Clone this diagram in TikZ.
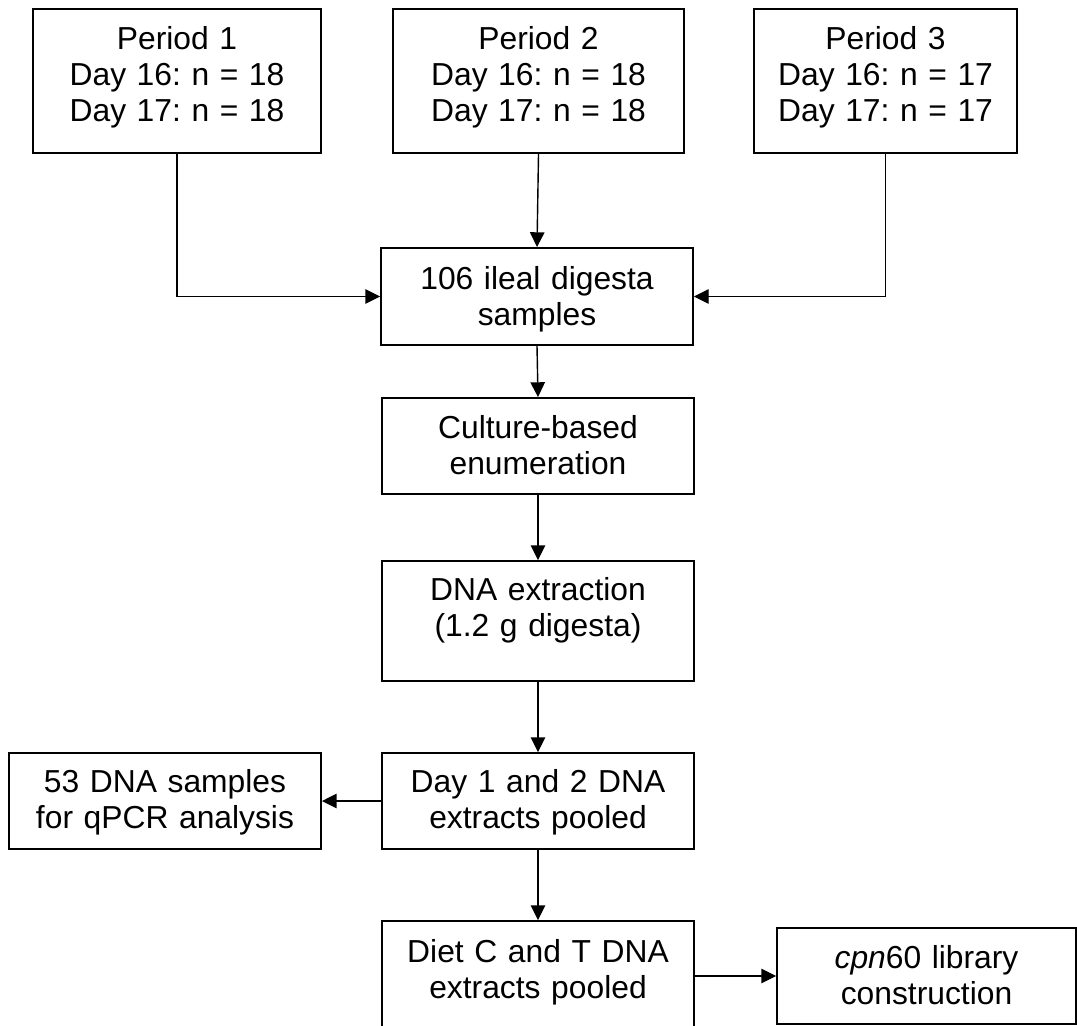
\documentclass[tikz,border=0pt]{standalone}
\usepackage{fontspec}
\setmainfont{Liberation Sans}
\usetikzlibrary{arrows.meta,positioning}
\frenchspacing

\begin{document}
\begin{tikzpicture}[x=0.02cm,y=-0.02cm,>={Triangle[length=8.4pt,width=8.2pt]},
  stage/.style={draw,line width=1.1pt,inner sep=0pt,align=center,font=\fontsize{18.1}{20.7}\selectfont},
  flow/.style={->,line width=0.8pt}]
\useasboundingbox (0,0) rectangle (1077,1025);
% sampling periods
\node[stage,text width=5.76cm,text height=0.80cm,text depth=2.08cm] (p1) at (177,81) {Period 1\\Day 16: n = 18\\Day 17: n = 18};
\node[stage,text width=5.82cm,text height=0.80cm,text depth=2.08cm] (p2) at (538.5,81) {Period 2\\Day 16: n = 18\\Day 17: n = 18};
\node[stage,text width=5.26cm,text height=0.80cm,text depth=2.08cm] (p3) at (885.5,81) {Period 3\\Day 16: n = 17\\Day 17: n = 17};
% processing steps
\node[stage,text width=6.24cm,text height=0.82cm,text depth=1.12cm] (samp) at (537,296.5) {106 ileal digesta\\samples};
\node[stage,text width=6.24cm,text height=0.80cm,text depth=1.12cm] (cult) at (538,446) {Culture-based\\enumeration};
\node[stage,text width=6.24cm,text height=0.78cm,text depth=1.62cm] (extr) at (538,621) {DNA extraction\\(1.2 g digesta)};
\node[stage,text width=6.24cm,text height=0.78cm,text depth=1.14cm] (pool1) at (538,801) {Day 1 and 2 DNA\\extracts pooled};
\node[stage,text width=6.24cm,text height=0.78cm,text depth=1.14cm] (qpcr) at (165,801) {53 DNA samples\\for qPCR analysis};
\node[stage,text width=6.24cm,text height=0.82cm,text depth=1.58cm] (pool2) at (538,981) {Diet C and T DNA\\extracts pooled};
\node[stage,text width=5.98cm,text height=0.80cm,text depth=1.12cm] (lib) at (926.5,976) {\textit{cpn}60 library\\construction};
% arrows
\draw[flow] (p1.south) |- (samp.west);
\draw[flow] (p2.south) -- (samp.north);
\draw[flow] (p3.south) |- (samp.east);
\draw[flow] (samp.south) -- (cult.north);
\draw[flow] (cult) -- (extr);
\draw[flow] (extr) -- (pool1);
\draw[flow] (pool1) -- (qpcr);
\draw[flow] (pool1) -- (pool2);
\draw[flow] (pool2.east |- lib.west) -- (lib.west);
\end{tikzpicture}
\end{document}
